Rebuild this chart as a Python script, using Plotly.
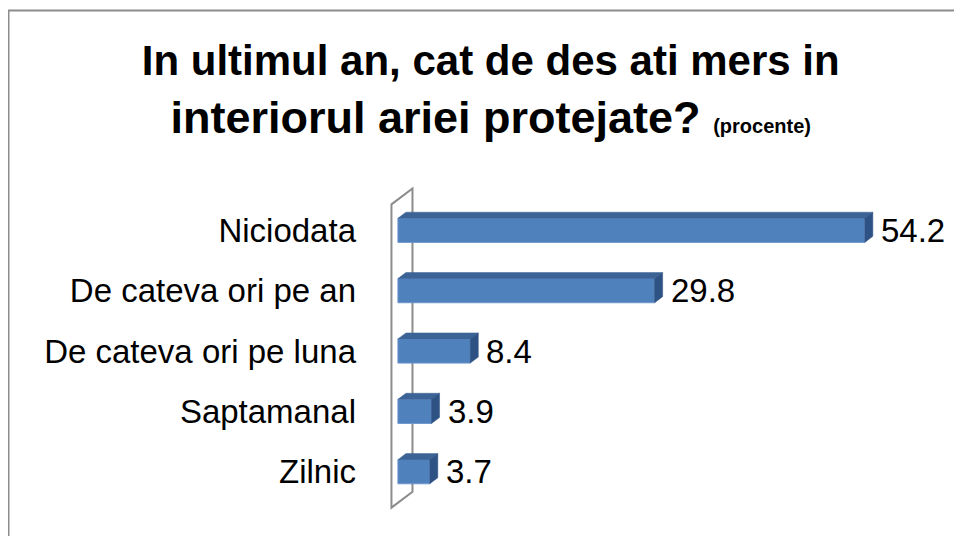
import plotly.graph_objects as go

# survey answers, bottom to top as drawn
categories = ["Zilnic", "Saptamanal", "De cateva ori pe luna", "De cateva ori pe an", "Niciodata"]
values = [3.7, 3.9, 8.4, 29.8, 54.2]
value_labels = ["3.7", "3.9", "8.4", "29.8", "54.2"]

FRONT = "#4F81BD"
TOP = "#3B6396"
SIDE = "#2E5283"
GREY = "#8C8C8C"
FONT = "Liberation Sans, Arial, sans-serif"

pos = list(range(len(categories)))
bar_w = 0.4
dx, dy = 0.93, 0.1          # fake 3d depth, in axis units

fig = go.Figure()
fig.add_trace(go.Bar(
    x=values, y=pos, orientation="h", width=bar_w,
    marker=dict(color=FRONT, line=dict(color="#6F95CC", width=1)),
    hoverinfo="x+text", hovertext=categories, showlegend=False,
))

shapes = []
# side wall of the category axis (behind the bars)
wx0, wx1 = -0.75, -0.75 + 2.44
wy0, wy1 = pos[0] - 0.595, pos[-1] + 0.43
wdy = 0.264
shapes.append(dict(
    type="path", xref="x", yref="y", layer="below",
    path=f"M {wx0},{wy0} L {wx0},{wy1} L {wx1},{wy1 + wdy} L {wx1},{wy0 + wdy} Z",
    line=dict(color=GREY, width=2), fillcolor="white",
))

# top and end faces of each bar
for p, v in zip(pos, values):
    yt, yb = p + bar_w / 2, p - bar_w / 2
    shapes.append(dict(
        type="path", xref="x", yref="y",
        path=f"M 0,{yt} L {v},{yt} L {v + dx},{yt + dy} L {dx},{yt + dy} Z",
        fillcolor=TOP, line=dict(color=TOP, width=0.5),
    ))
    shapes.append(dict(
        type="path", xref="x", yref="y",
        path=f"M {v},{yb} L {v},{yt} L {v + dx},{yt + dy} L {v + dx},{yb + dy} Z",
        fillcolor=SIDE, line=dict(color=SIDE, width=0.5),
    ))

# chart frame
shapes.append(dict(
    type="rect", xref="paper", yref="paper",
    x0=-0.6883, x1=1.0695, y0=-0.0727, y1=1.481,
    line=dict(color=GREY, width=2), fillcolor="rgba(0,0,0,0)", layer="below",
))

annotations = []
for p, v, t in zip(pos, values, value_labels):
    annotations.append(dict(
        x=v + dx, y=p, xref="x", yref="y", text=t, showarrow=False,
        xanchor="left", yanchor="middle", xshift=6,
        font=dict(family=FONT, size=33, color="black"),
    ))

fig.update_layout(
    width=954, height=528,
    margin=dict(l=377, r=30, t=168, b=16),
    paper_bgcolor="white", plot_bgcolor="rgba(0,0,0,0)",
    title=dict(
        text="<span style='font-size:42px'>In ultimul an, cat de des ati mers in</span><br>"
             "interiorul ariei protejate? "
             "<span style='font-size:20px'>(procente)</span>",
        x=0.506, xanchor="center", y=0.874, yanchor="top",
        font=dict(family=FONT, size=45, color="black", weight="bold"),
    ),
    xaxis=dict(range=[-1.5, 62], visible=False),
    yaxis=dict(
        range=[-0.8, 4.9], tickvals=pos, ticktext=categories,
        showgrid=False, zeroline=False, showline=False, ticks="",
        ticklabelstandoff=28,
        tickfont=dict(family=FONT, size=33, color="black"),
    ),
    shapes=shapes, annotations=annotations,
)

fig.write_html("out.html")
